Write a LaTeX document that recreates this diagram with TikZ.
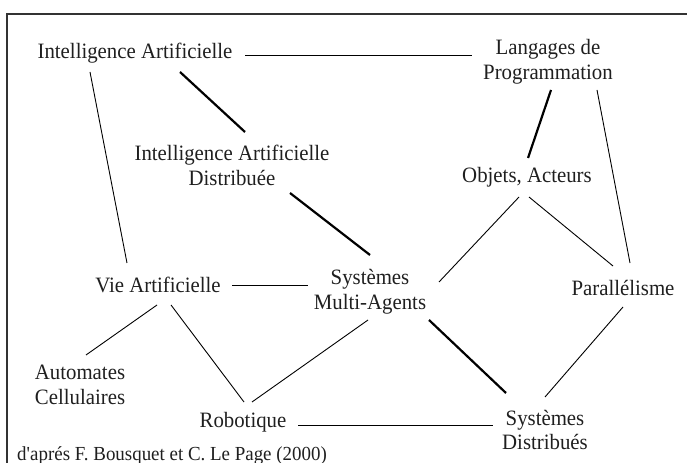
\documentclass[tikz,border=0pt]{standalone}
\usepackage{fontspec}
\setmainfont[FakeStretch=0.95]{Liberation Serif}
\begin{document}
\begin{tikzpicture}[x=1bp,y=-1bp,
    field/.style={align=center,inner sep=0pt,
        font=\fontsize{22}{25}\selectfont,text=black!88},
    link/.style={draw,line width=0.9bp},
    strong/.style={draw,line width=2.2bp}
]
    \useasboundingbox (0,0) rectangle (687,463);
    \draw[line width=2bp,black!80] (7,463) -- (7,14) -- (687,14);

    \node[field] (ia) at (135,53) {Intelligence Artificielle};
    \node[field] (ldp) at (548,62) {Langages de\\Programmation};
    \node[field] (iad) at (232,165) {Intelligence Artificielle\\Distribuée};
    \node[field] (oa) at (527,177) {Objets, Acteurs};
    \node[field] (va) at (158,285) {Vie Artificielle};
    \node[field] (sma) at (370,292) {Systèmes\\Multi-Agents};
    \node[field] (par) at (623,288) {Parallélisme};
    \node[field] (ac) at (80,385) {Automates\\Cellulaires};
    \node[field] (rob) at (243,422) {Robotique};
    \node[field] (sd) at (545,430) {Systèmes\\Distribués};
    \node[font=\fontsize{20}{24}\selectfont,text=black!88,anchor=base west,
        inner sep=0pt] (source) at (17,460)
        {d\textquotesingle aprés F. Bousquet et C. Le Page (2000)};

    \draw[link] ([shift={(110,2)}]ia.center) -- ([shift={(-76,-7)}]ldp.center);
    \draw[link] ([shift={(-45,19)}]ia.center) -- ([shift={(-31,-22)}]va.center);
    \draw[strong] ([shift={(45,19)}]ia.center) -- ([shift={(13,-33)}]iad.center);
    \draw[strong] ([shift={(3,28)}]ldp.center) -- ([shift={(1,-19)}]oa.center);
    \draw[link] ([shift={(49,28)}]ldp.center) -- ([shift={(7,-25)}]par.center);
    \draw[strong] ([shift={(58,28)}]iad.center) -- ([shift={(0,-37)}]sma.center);
    \draw[link] ([shift={(-8,20)}]oa.center) -- ([shift={(69,-10)}]sma.center);
    \draw[link] ([shift={(2,20)}]oa.center) -- ([shift={(-10,-22)}]par.center);
    \draw[link] ([shift={(74,0)}]va.center) -- ([shift={(-62,-7)}]sma.center);
    \draw[link] ([shift={(-1,20)}]va.center) -- ([shift={(6,-30)}]ac.center);
    \draw[link] ([shift={(13,20)}]va.center) -- ([shift={(1,-20)}]rob.center);
    \draw[link] ([shift={(-2,28)}]sma.center) -- ([shift={(9,-20)}]rob.center);
    \draw[strong] ([shift={(59,28)}]sma.center) -- ([shift={(-39,-37)}]sd.center);
    \draw[link] ([shift={(0,19)}]par.center) -- ([shift={(0,-33)}]sd.center);
    \draw[link] ([shift={(55,3)}]rob.center) -- ([shift={(-52,-5)}]sd.center);
\end{tikzpicture}
\end{document}
